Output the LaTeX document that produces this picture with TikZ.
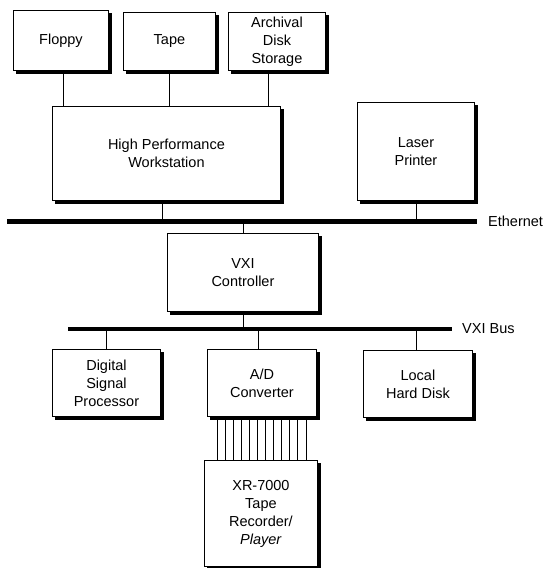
\documentclass[tikz,border=0pt]{standalone}
\usepackage{fontspec}
\setmainfont{Liberation Sans}
\usetikzlibrary{calc}
\begin{document}
\begin{tikzpicture}[x=1pt,y=-1pt,
  box/.style={draw=black,line width=0.9pt,fill=white,anchor=north west,inner sep=0pt,
    align=center,font=\fontsize{14.5}{18}\selectfont},
  shadowline/.style={draw=black,line width=4pt},
  link/.style={line width=0.9pt},
  bus/.style={line width=5pt},
  vbus/.style={line width=3.5pt},
  lab/.style={anchor=west,inner sep=0pt,font=\fontsize{14.5}{18}\selectfont}]
\useasboundingbox (0,0) rectangle (544,568);
% shadows first, as offset black rectangles (boxes drawn on top)
\fill[black] (16,13) rectangle (111.5,73.5);
\fill[black] (126,15) rectangle (218.5,73.5);
\fill[black] (231,15) rectangle (328.5,73.5);
\fill[black] (55,109) rectangle (283.5,203.5);
\fill[black] (360,105) rectangle (477.5,203.5);
\fill[black] (170,236) rectangle (321.5,314.5);
\fill[black] (55,352) rectangle (163.5,419.5);
\fill[black] (210,352) rectangle (319.5,419.5);
\fill[black] (366,353) rectangle (475.5,420.5);
\fill[black] (207,463) rectangle (320.5,570);
\node[box,minimum width=95pt,minimum height=60pt] (floppy) at (13,10) {Floppy};
\node[box,minimum width=92pt,minimum height=58pt] (tape) at (123,12) {Tape};
\node[box,minimum width=97pt,minimum height=58pt] (arch) at (228,12) {Archival\\Disk\\Storage};
\node[box,minimum width=228pt,minimum height=94pt] (ws) at (52,106) {High Performance\\Workstation};
\node[box,minimum width=117pt,minimum height=98pt] (laser) at (357,102) {Laser\\Printer};
\node[box,minimum width=151pt,minimum height=78pt] (vxi) at (167,233) {VXI\\Controller};
\node[box,minimum width=108pt,minimum height=67pt] (dsp) at (52,349) {Digital\\Signal\\Processor};
\node[box,minimum width=109pt,minimum height=67pt] (ad) at (207,349) {A/D\\Converter};
\node[box,minimum width=109pt,minimum height=67pt] (lhd) at (363,350) {Local\\Hard Disk};
\node[box,minimum width=113pt,minimum height=106pt] (xr) at (204,460) {XR-7000\\Tape\\Recorder/\\\textit{Player}};
% buses
\coordinate (ethL) at (7,221);
\coordinate (ethR) at (477,221);
\coordinate (vbL) at (68,329);
\coordinate (vbR) at (452,329);
\draw[bus] (ethL) -- (ethR);
\draw[vbus] (vbL) -- (vbR);
\node[lab] (ethlab) at (488,221) {Ethernet};
\node[lab] (vbuslab) at (462,329) {VXI Bus};
% links
\draw[link] ([xshift=2pt]floppy.south) -- ([xshift=2pt]floppy.south |- ws.north);
\draw[link] (tape.south) -- (tape.south |- ws.north);
\draw[link] ([xshift=-8.5pt]arch.south) -- ([xshift=-8.5pt]arch.south |- ws.north);
\draw[link] ([xshift=-4pt]ws.south) -- ([xshift=-4pt]ws.south |- ethL);
\draw[link] (laser.south) -- (laser.south |- ethL);
\draw[link] (vxi.north |- ethL) -- (vxi.north);
\draw[link] (vxi.south) -- (vxi.south |- vbL);
\draw[link] (dsp.north |- vbL) -- (dsp.north);
\draw[link] ([xshift=-3.5pt]ad.north |- vbL) -- ([xshift=-3.5pt]ad.north);
\draw[link] ([xshift=-1.5pt]lhd.north |- vbL) -- ([xshift=-1.5pt]lhd.north);
\foreach \i in {0,...,11}{
  \draw[link] ($(ad.south west)+(10+8.09*\i,3.5)$) -- ($(ad.south west |- xr.north)+(10+8.09*\i,0)$);
}
\end{tikzpicture}
\end{document}
